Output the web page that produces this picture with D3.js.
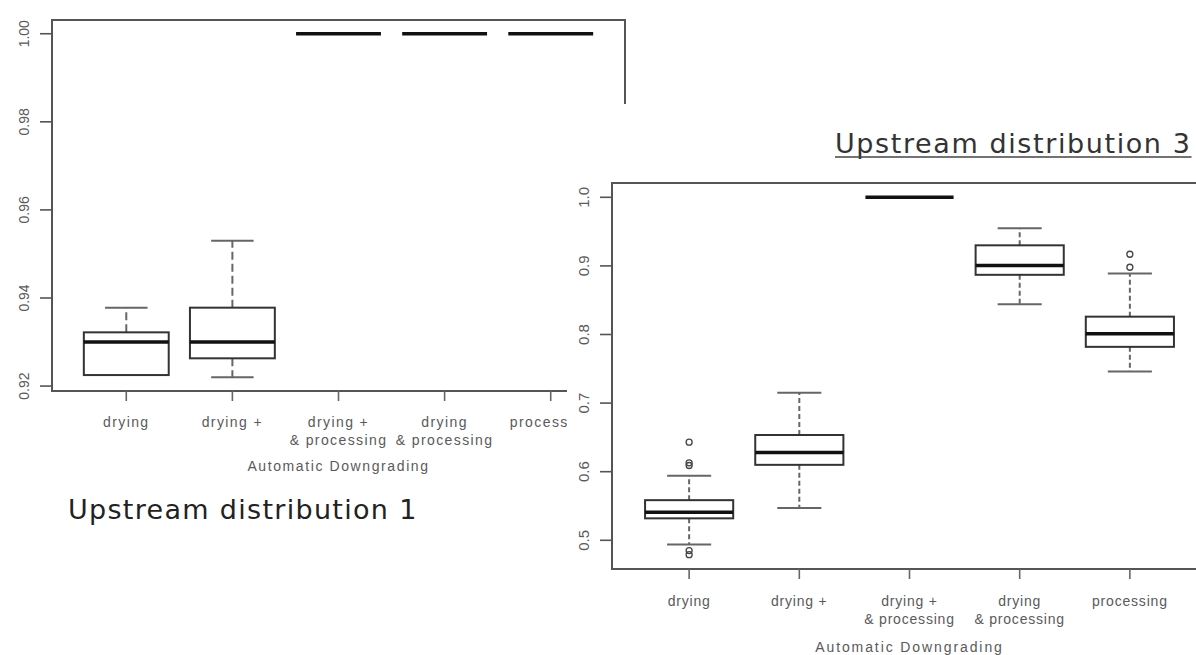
<!DOCTYPE html>
<html>
<head>
<meta charset="utf-8">
<script src="https://cdn.jsdelivr.net/npm/d3@7"></script>
<style>
  body { margin: 0; background: #fff; }
  svg { display: block; }
  .lbl { font-family: "Liberation Sans", Arial, sans-serif; fill: #5a5a5a; }
  .title { font-family: "DejaVu Sans", sans-serif; font-size: 27px; fill: #222; }
</style>
</head>
<body>
<svg id="chart" width="1196" height="655"></svg>
<script>
const categories = ['drying', 'drying +', 'drying +\n& processing', 'drying\n& processing', 'processing'];
const xTitle = 'Automatic Downgrading';

// Upstream distribution 1
const low1 = [0.9225, 0.922, 1.0, 1.0, 1.0];
const q1_1 = [0.9225, 0.9263, 1.0, 1.0, 1.0];
const med1 = [0.930, 0.930, 1.0, 1.0, 1.0];
const q3_1 = [0.9322, 0.9378, 1.0, 1.0, 1.0];
const high1 = [0.9378, 0.953, 1.0, 1.0, 1.0];
const out1 = [[], [], [], [], []];
const yTicks1 = [0.92, 0.94, 0.96, 0.98, 1.00];
const yTickLabels1 = ['0.92', '0.94', '0.96', '0.98', '1.00'];

// Upstream distribution 3
const low3 = [0.494, 0.547, 1.0, 0.844, 0.746];
const q1_3 = [0.532, 0.610, 1.0, 0.887, 0.782];
const med3 = [0.541, 0.628, 1.0, 0.9005, 0.801];
const q3_3 = [0.5585, 0.6535, 1.0, 0.930, 0.826];
const high3 = [0.594, 0.715, 1.0, 0.955, 0.889];
const out3 = [[0.643, 0.613, 0.609, 0.485, 0.479], [], [], [], [0.917, 0.898]];
const yTicks3 = [0.5, 0.6, 0.7, 0.8, 0.9, 1.0];
const yTickLabels3 = ['0.5', '0.6', '0.7', '0.8', '0.9', '1.0'];

const svg = d3.select('svg#chart');

function drawPanel(p, stats) {
  const g = svg.append('g');
  const allVals = [...stats.low, ...stats.high, ...stats.out.flat()];
  const [mn, mx] = d3.extent(allVals);
  const pad = (mx - mn) * 0.04;
  const y = d3.scaleLinear().domain([mn - pad, mx + pad]).range([p.bottom, p.top]);
  const x = d3.scaleLinear().domain([0.3, categories.length + 0.7]).range([p.left, p.right]);
  const half = 0.4 * (x(1) - x(0));
  const capHalf = half / 2;

  const rows = categories.map((c, i) => ({
    i: i + 1, lo: stats.low[i], q1: stats.q1[i], med: stats.med[i],
    q3: stats.q3[i], hi: stats.high[i], out: stats.out[i]
  }));

  // whiskers
  const wh = g.append('g').attr('stroke', '#666').attr('stroke-width', 2);
  rows.filter(d => d.hi > d.q3).forEach(d => {
    wh.append('line').attr('x1', x(d.i)).attr('x2', x(d.i)).attr('y1', y(d.q3)).attr('y2', y(d.hi))
      .attr('stroke-dasharray', p.dash);
    wh.append('line').attr('x1', x(d.i) - capHalf).attr('x2', x(d.i) + capHalf)
      .attr('y1', y(d.hi)).attr('y2', y(d.hi));
  });
  rows.filter(d => d.lo < d.q1).forEach(d => {
    wh.append('line').attr('x1', x(d.i)).attr('x2', x(d.i)).attr('y1', y(d.q1)).attr('y2', y(d.lo))
      .attr('stroke-dasharray', p.dash);
    wh.append('line').attr('x1', x(d.i) - capHalf).attr('x2', x(d.i) + capHalf)
      .attr('y1', y(d.lo)).attr('y2', y(d.lo));
  });

  // boxes
  g.selectAll('rect.box').data(rows.filter(d => d.q3 > d.q1)).enter().append('rect')
    .attr('class', 'box')
    .attr('x', d => x(d.i) - half).attr('width', 2 * half)
    .attr('y', d => y(d.q3)).attr('height', d => y(d.q1) - y(d.q3))
    .attr('fill', '#fff').attr('stroke', '#333').attr('stroke-width', 2);

  // medians
  g.selectAll('line.med').data(rows).enter().append('line')
    .attr('x1', d => x(d.i) - half).attr('x2', d => x(d.i) + half)
    .attr('y1', d => y(d.med)).attr('y2', d => y(d.med))
    .attr('stroke', '#111').attr('stroke-width', 3.5);

  // outliers
  rows.forEach(d => {
    g.selectAll(null).data(d.out).enter().append('circle')
      .attr('cx', x(d.i)).attr('cy', v => y(v)).attr('r', 3)
      .attr('fill', 'none').attr('stroke', '#444').attr('stroke-width', 1.3);
  });

  // frame
  g.append('rect').attr('x', p.left).attr('y', p.top)
    .attr('width', p.right - p.left).attr('height', p.bottom - p.top)
    .attr('fill', 'none').attr('stroke', '#555').attr('stroke-width', 2);

  // y axis
  const yAxis = g.append('g');
  yAxis.selectAll('line').data(stats.yTicks).enter().append('line')
    .attr('x1', p.left - 12).attr('x2', p.left)
    .attr('y1', d => y(d)).attr('y2', d => y(d))
    .attr('stroke', '#555').attr('stroke-width', 1.6);
  yAxis.selectAll('text').data(stats.yTicks).enter().append('text')
    .attr('class', 'lbl')
    .attr('transform', d => `translate(${p.yLabelX},${y(d)}) rotate(-90)`)
    .attr('text-anchor', 'middle')
    .style('font-size', p.yFont + 'px')
    .text((d, i) => stats.yTickLabels[i]);

  // x axis
  const xAxis = g.append('g');
  xAxis.selectAll('line').data(rows).enter().append('line')
    .attr('x1', d => x(d.i)).attr('x2', d => x(d.i))
    .attr('y1', p.bottom).attr('y2', p.bottom + 10)
    .attr('stroke', '#666').attr('stroke-width', 1.6);
  const xl = xAxis.selectAll('text').data(categories).enter().append('text')
    .attr('class', 'lbl')
    .attr('text-anchor', 'middle')
    .style('font-size', p.xFont + 'px')
    .style('letter-spacing', p.xSpacing + 'px');
  xl.each(function (c, i) {
    const t = d3.select(this);
    c.split('\n').forEach((line, k) => {
      t.append('tspan').attr('x', x(i + 1)).attr('y', p.bottom + p.xLabelDy + k * p.lineH).text(line);
    });
  });
  g.append('text').attr('class', 'lbl')
    .attr('x', (x(1) + x(categories.length)) / 2)
    .attr('y', p.bottom + p.xTitleDy)
    .attr('text-anchor', 'middle')
    .style('font-size', p.xFont + 'px')
    .style('letter-spacing', p.titleSpacing + 'px')
    .text(xTitle);
  return g;
}

drawPanel(
  { left: 52, right: 625, top: 20, bottom: 391, yLabelX: 29, yFont: 14, xFont: 14,
    xSpacing: 1.4, titleSpacing: 1.6, xLabelDy: 36, lineH: 18, xTitleDy: 80, dash: '8,4' },
  { low: low1, q1: q1_1, med: med1, q3: q3_1, high: high1, out: out1,
    yTicks: yTicks1, yTickLabels: yTickLabels1 }
);

svg.append('text').attr('class', 'title').attr('x', 68).attr('y', 519)
  .style('letter-spacing', '1.3px')
  .text('Upstream distribution 1');

// second picture pasted on top
svg.append('rect').attr('x', 567).attr('y', 104).attr('width', 1196 - 567).attr('height', 655 - 104)
  .attr('fill', '#fff');

drawPanel(
  { left: 612, right: 1207, top: 183, bottom: 569, yLabelX: 589, yFont: 15, xFont: 14,
    xSpacing: 0.8, titleSpacing: 1.9, xLabelDy: 37, lineH: 18, xTitleDy: 83, dash: '5,3' },
  { low: low3, q1: q1_3, med: med3, q3: q3_3, high: high3, out: out3,
    yTicks: yTicks3, yTickLabels: yTickLabels3 }
);

const t3 = svg.append('text').attr('class', 'title').attr('x', 835).attr('y', 153)
  .style('fill', '#333')
  .style('letter-spacing', '1.6px')
  .text('Upstream distribution 3');
const w3 = t3.node().getComputedTextLength();
svg.append('line').attr('x1', 835).attr('x2', 835 + w3).attr('y1', 157).attr('y2', 157)
  .attr('stroke', '#444').attr('stroke-width', 1.5);
</script>
</body>
</html>
